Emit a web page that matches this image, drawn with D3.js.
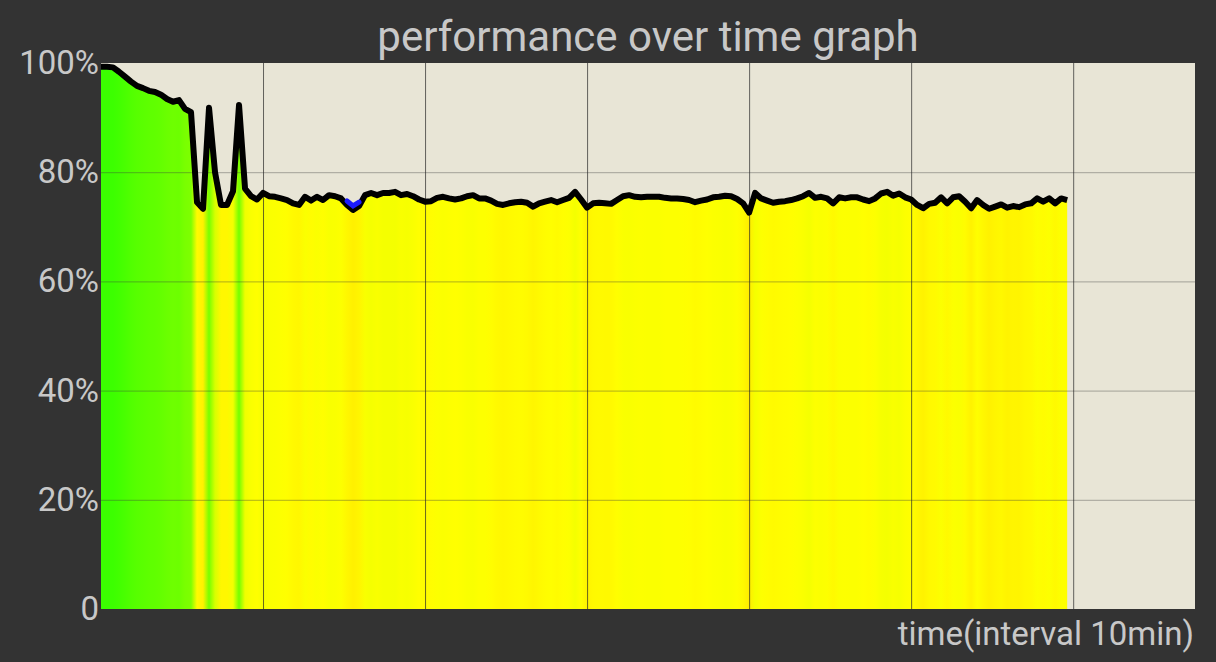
<!DOCTYPE html>
<html>
<head>
<meta charset="utf-8">
<script src="https://cdn.jsdelivr.net/npm/d3@7"></script>
<style>
	html, body { margin: 0; padding: 0; background: #333333; }
	svg { display: block; font-family: Roboto, "Noto Sans", sans-serif; }
</style>
</head>
<body>
<div id="chart"></div>
<script>

// performance samples, one every 10 minutes (percent):
var performance = [
	99.3, 99.3, 99.2, 98.4, 97.5, 96.6, 95.8, 95.4, 94.9, 94.7,
	94.2, 93.4, 92.9, 93.2, 91.6, 91.0, 74.5, 73.3, 91.8, 80.0,
	74.0, 74.0, 76.5, 92.3, 77.0, 75.6, 75.0, 76.2, 75.6, 75.5,
	75.2, 74.9, 74.3, 74.0, 75.5, 74.8, 75.5, 74.9, 75.8, 75.6,
	75.2, 74.0, 73.1, 73.8, 75.8, 76.2, 75.8, 76.2, 76.2, 76.4,
	75.8, 76.0, 75.6, 75.0, 74.6, 74.7, 75.3, 75.5, 75.2, 75.0,
	75.2, 75.6, 75.8, 75.2, 75.2, 74.8, 74.2, 74.0, 74.3, 74.5,
	74.6, 74.4, 73.7, 74.3, 74.6, 74.9, 74.5, 74.9, 75.3, 76.4,
	75.0, 73.5, 74.3, 74.4, 74.3, 74.2, 74.9, 75.6, 75.8, 75.5,
	75.4, 75.5, 75.5, 75.5, 75.3, 75.2, 75.2, 75.1, 74.9, 74.5,
	74.8, 75.0, 75.4, 75.5, 75.7, 75.6, 75.1, 74.3, 72.6, 76.2,
	75.2, 74.8, 74.4, 74.6, 74.7, 74.9, 75.2, 75.6, 76.2, 75.3,
	75.5, 75.2, 74.3, 75.4, 75.2, 75.4, 75.4, 75.0, 74.7, 75.2,
	76.1, 76.4, 75.7, 76.1, 75.4, 75.0, 74.0, 73.4, 74.2, 74.4,
	75.4, 74.3, 75.4, 75.6, 74.6, 73.4, 74.9, 74.0, 73.3, 73.7,
	74.1, 73.5, 73.8, 73.6, 74.1, 74.3, 75.2, 74.6, 75.2, 74.3,
	75.2, 74.9
];

// samples flagged in blue on the line:
var markedIdx = [41, 42, 43];

// axis ticks:
var yTicks = [0, 20, 40, 60, 80, 100];
var yTickLabels = ['0', '20%', '40%', '60%', '80%', '100%'];

// x axis capacity (in samples) and grid spacing:
var xSlots = 182.3;
var xGridEvery = 27;

var titleText = 'performance over time graph',
	xTitleText = 'time(interval 10min)';

var W = 1216, H = 662,
	margin = { top: 63, right: 21, bottom: 53, left: 101 },
	width = W - margin.left - margin.right,
	height = H - margin.top - margin.bottom;

var svg = d3.select('#chart').append('svg')
	.attr('width', W)
	.attr('height', H);

svg.append('rect')
	.attr('width', W)
	.attr('height', H)
	.attr('fill', '#333333');

var chart = svg.append('g')
	.attr('transform', 'translate(' + margin.left + ',' + margin.top + ')');

var x = d3.scaleLinear().domain([0, xSlots]).range([0, width]),
	y = d3.scaleLinear().domain([0, 100]).range([height, 0]);

// value -> colour (green at 100%, yellow around 75%, orange below):
function colorOf( v ) {
	var h = Math.max(30, Math.min(120, 60 + (v - 75) * 1.9));
	return d3.hsl(h, 1, 0.5).toString();
}

// plot background:
chart.append('rect')
	.attr('width', width)
	.attr('height', height)
	.attr('fill', '#e8e5d6');

// gradient following the samples:
var grad = svg.append('defs').append('linearGradient')
	.attr('id', 'perfFill')
	.attr('gradientUnits', 'userSpaceOnUse')
	.attr('x1', x(0)).attr('x2', x(performance.length - 1))
	.attr('y1', 0).attr('y2', 0);

grad.selectAll('stop')
	.data(performance)
	.enter().append('stop')
		.attr('offset', function(d, i) { return i / (performance.length - 1); })
		.attr('stop-color', function(d) { return colorOf(d); });

var area = d3.area()
	.x(function(d, i) { return x(i); })
	.y0(height)
	.y1(function(d) { return y(d); });

chart.append('path')
	.datum(performance)
	.attr('d', area)
	.attr('fill', 'url(#perfFill)');

// grid:
var hGrid = chart.append('g')
	.call(d3.axisLeft(y).tickValues([20, 40, 60, 80]).tickSize(-width).tickFormat(''));
hGrid.select('.domain').remove();
hGrid.selectAll('line').attr('stroke', 'rgba(60,60,60,0.4)').attr('stroke-width', 1);

var vGrid = chart.append('g')
	.attr('transform', 'translate(0,' + height + ')')
	.call(d3.axisBottom(x).tickValues(d3.range(xGridEvery, xSlots, xGridEvery)).tickSize(-height).tickFormat(''));
vGrid.select('.domain').remove();
vGrid.selectAll('line').attr('stroke', 'rgba(40,40,40,0.7)').attr('stroke-width', 1);

// performance line:
var line = d3.line()
	.x(function(d, i) { return x(i); })
	.y(function(d) { return y(d); });

chart.append('path')
	.datum(performance)
	.attr('d', line)
	.attr('fill', 'none')
	.attr('stroke', '#000')
	.attr('stroke-width', 6)
	.attr('stroke-linejoin', 'round');

// blue flagged samples:
var marked = markedIdx.map(function(i) { return [i, performance[i]]; });
chart.append('path')
	.datum(marked)
	.attr('d', d3.line()
		.x(function(d) { return x(d[0]); })
		.y(function(d) { return y(d[1]) - 4; }))
	.attr('fill', 'none')
	.attr('stroke', '#1a1aff')
	.attr('stroke-width', 5)
	.attr('stroke-linecap', 'round');

// y labels:
var yAxis = chart.append('g')
	.call(d3.axisLeft(y).tickValues(yTicks).tickSize(0).tickPadding(2)
		.tickFormat(function(d, i) { return yTickLabels[i]; }));
yAxis.select('.domain').remove();
yAxis.selectAll('text')
	.attr('fill', '#c8c8c8')
	.style('font-size', '33px')
	.style('font-family', 'Roboto, sans-serif');

// titles:
svg.append('text')
	.attr('x', margin.left + width / 2)
	.attr('y', 51)
	.attr('text-anchor', 'middle')
	.attr('fill', '#c8c8c8')
	.style('font-size', '42px')
	.text(titleText);

svg.append('text')
	.attr('x', margin.left + width - 1)
	.attr('y', 645)
	.attr('text-anchor', 'end')
	.attr('fill', '#c8c8c8')
	.style('font-size', '33px')
	.text(xTitleText);

</script>
</body>
</html>
